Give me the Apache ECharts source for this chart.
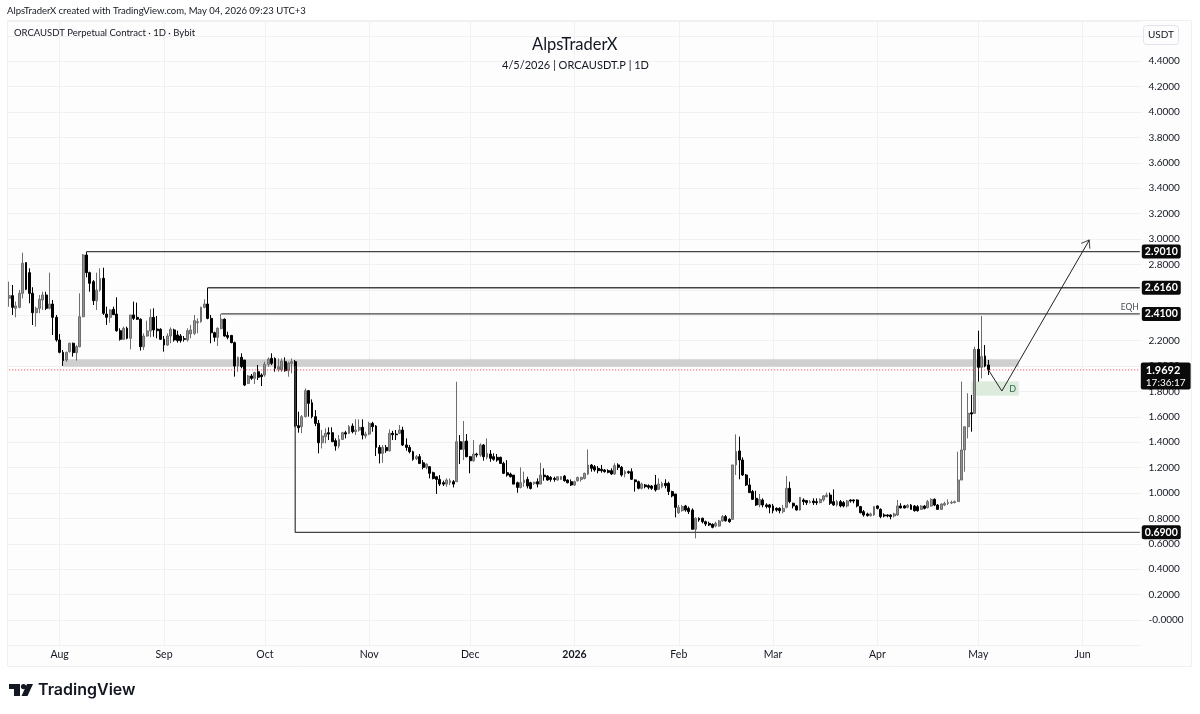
<!DOCTYPE html>
<html lang="en">
<head>
<meta charset="UTF-8">
<title>ORCAUSDT</title>
<script src="https://cdn.jsdelivr.net/npm/echarts@6/dist/echarts.min.js"></script>
<style>html,body{margin:0;height:100%;background:#fff}#container{width:1200px;height:714px}</style>
</head>
<body>
<div id="container"></div>
<script>
// daily candles from 17 Jul 2025, each row: open, close, low, high
const candles = [
[2.533,2.554,2.467,2.664],[2.554,2.462,2.402,2.638],[2.454,2.473,2.383,2.507],[2.462,2.572,2.454,2.598],
[2.572,2.809,2.533,2.892],[2.814,2.604,2.598,2.816],[2.735,2.572,2.494,2.769],[2.572,2.420,2.323,2.620],
[2.420,2.454,2.310,2.467],[2.454,2.525,2.415,2.559],[2.520,2.559,2.441,2.585],[2.559,2.454,2.441,2.585],
[2.454,2.488,2.446,2.735],[2.488,2.383,2.244,2.520],[2.383,2.205,2.192,2.402],[2.205,2.108,2.100,2.252],
[2.108,2.042,2.000,2.126],[2.047,2.108,2.034,2.113],[2.113,2.179,2.105,2.184],[2.179,2.105,2.074,2.184],
[2.105,2.152,2.042,2.165],[2.152,2.388,2.147,2.572],[2.388,2.874,2.383,2.882],[2.874,2.735,2.698,2.901],
[2.735,2.651,2.585,2.743],[2.664,2.514,2.480,2.677],[2.514,2.598,2.441,2.735],[2.598,2.690,2.585,2.769],
[2.690,2.415,2.402,2.774],[2.409,2.383,2.323,2.467],[2.383,2.441,2.341,2.446],[2.446,2.404,2.402,2.467],
[2.409,2.278,2.270,2.541],[2.278,2.210,2.200,2.297],[2.210,2.297,2.205,2.310],[2.297,2.218,2.210,2.310],
[2.218,2.402,2.131,2.402],[2.402,2.375,2.362,2.507],[2.383,2.368,2.362,2.499],[2.368,2.152,2.121,2.375],
[2.152,2.236,2.126,2.257],[2.236,2.276,2.231,2.357],[2.276,2.383,2.226,2.449],[2.383,2.284,2.231,2.454],
[2.291,2.278,2.218,2.394],[2.289,2.210,2.205,2.297],[2.210,2.165,2.113,2.236],[2.165,2.236,2.158,2.257],
[2.236,2.289,2.179,2.304],[2.284,2.205,2.192,2.294],[2.244,2.200,2.184,2.278],[2.236,2.200,2.184,2.252],
[2.215,2.210,2.192,2.236],[2.205,2.278,2.192,2.297],[2.252,2.284,2.218,2.323],[2.257,2.357,2.244,2.402],
[2.341,2.349,2.257,2.375],[2.349,2.462,2.341,2.467],[2.462,2.488,2.454,2.525],[2.488,2.375,2.368,2.616],
[2.375,2.262,2.179,2.402],[2.262,2.226,2.192,2.270],[2.226,2.297,2.158,2.304],[2.294,2.368,2.289,2.410],
[2.368,2.236,2.231,2.375],[2.241,2.226,2.210,2.270],[2.241,2.184,2.179,2.244],[2.184,2.000,1.916,2.192],
[2.000,2.068,1.955,2.074],[2.068,1.995,1.982,2.100],[2.047,1.850,1.842,2.047],[1.863,1.921,1.858,1.929],
[1.921,1.903,1.890,1.937],[1.903,1.947,1.858,1.955],[1.955,1.911,1.890,2.008],[1.929,1.916,1.842,1.942],
[1.929,2.013,1.916,2.034],[2.013,2.055,1.995,2.068],[2.060,2.021,2.008,2.100],[2.060,1.982,1.955,2.068],
[1.974,1.995,1.955,2.060],[1.969,2.039,1.955,2.060],[2.034,1.963,1.955,2.068],[1.963,2.021,1.916,2.034],
[2.021,2.034,1.942,2.060],[2.034,1.530,1.520,2.047],[1.530,1.514,1.475,1.640],[1.522,1.601,1.470,1.614],
[1.601,1.806,1.595,1.824],[1.806,1.706,1.601,1.811],[1.711,1.601,1.588,1.737],[1.601,1.548,1.527,1.653],
[1.548,1.396,1.312,1.575],[1.396,1.449,1.351,1.496],[1.443,1.470,1.391,1.509],[1.475,1.464,1.417,1.517],
[1.475,1.404,1.404,1.517],[1.412,1.370,1.333,1.430],[1.370,1.422,1.351,1.456],[1.422,1.475,1.417,1.483],
[1.475,1.464,1.430,1.490],[1.470,1.522,1.464,1.535],[1.527,1.483,1.470,1.548],[1.483,1.496,1.456,1.580],
[1.496,1.517,1.483,1.580],[1.517,1.456,1.422,1.580],[1.449,1.464,1.430,1.483],[1.464,1.548,1.456,1.561],
[1.548,1.522,1.483,1.561],[1.527,1.359,1.291,1.535],[1.359,1.312,1.233,1.378],[1.312,1.359,1.238,1.378],
[1.359,1.333,1.317,1.378],[1.333,1.470,1.325,1.501],[1.470,1.459,1.417,1.490],[1.464,1.459,1.417,1.496],
[1.470,1.496,1.464,1.535],[1.496,1.378,1.370,1.522],[1.378,1.359,1.333,1.430],[1.359,1.325,1.312,1.378],
[1.325,1.265,1.254,1.333],[1.270,1.286,1.259,1.299],[1.286,1.233,1.228,1.307],[1.238,1.202,1.186,1.259],
[1.202,1.228,1.186,1.233],[1.207,1.155,1.115,1.212],[1.160,1.115,1.107,1.168],[1.128,1.107,0.992,1.133],
[1.107,1.070,1.055,1.141],[1.081,1.070,1.055,1.097],[1.070,1.102,1.049,1.115],[1.081,1.097,1.063,1.115],
[1.089,1.070,1.044,1.102],[1.089,1.404,1.089,1.876],[1.404,1.344,1.228,1.456],[1.344,1.404,1.260,1.567],
[1.409,1.286,1.281,1.464],[1.286,1.254,1.155,1.291],[1.254,1.307,1.246,1.417],[1.307,1.299,1.281,1.317],
[1.299,1.378,1.286,1.391],[1.378,1.286,1.254,1.385],[1.281,1.312,1.265,1.430],[1.307,1.273,1.246,1.338],
[1.286,1.265,1.254,1.312],[1.281,1.259,1.246,1.307],[1.281,1.233,1.228,1.286],[1.233,1.155,1.149,1.246],
[1.160,1.141,1.128,1.259],[1.149,1.128,1.123,1.160],[1.141,1.070,1.070,1.141],[1.081,1.044,1.002,1.089],
[1.044,1.081,1.036,1.202],[1.081,1.102,1.049,1.168],[1.107,1.055,1.036,1.128],[1.081,1.036,1.028,1.089],
[1.076,1.084,1.063,1.089],[1.089,1.070,1.044,1.115],[1.070,1.141,1.070,1.238],[1.141,1.128,1.097,1.194],
[1.133,1.102,1.097,1.141],[1.123,1.107,1.089,1.133],[1.115,1.107,1.089,1.128],[1.102,1.128,1.097,1.133],
[1.107,1.128,1.102,1.133],[1.133,1.097,1.089,1.141],[1.102,1.081,1.076,1.107],[1.089,1.063,1.055,1.107],
[1.063,1.089,1.055,1.097],[1.097,1.123,1.089,1.128],[1.107,1.123,1.089,1.128],[1.115,1.155,1.107,1.160],
[1.149,1.220,1.141,1.343],[1.220,1.194,1.168,1.228],[1.207,1.181,1.168,1.220],[1.194,1.176,1.155,1.212],
[1.187,1.176,1.160,1.221],[1.181,1.168,1.160,1.189],[1.176,1.163,1.155,1.187],[1.176,1.150,1.142,1.194],
[1.150,1.215,1.142,1.234],[1.221,1.202,1.181,1.234],[1.202,1.142,1.129,1.213],[1.150,1.168,1.124,1.181],
[1.168,1.160,1.150,1.176],[1.168,1.108,1.103,1.194],[1.103,1.089,1.011,1.108],[1.089,1.037,1.029,1.097],
[1.037,1.071,1.029,1.082],[1.063,1.050,1.037,1.071],[1.058,1.045,1.029,1.068],[1.055,1.037,1.024,1.063],
[1.063,1.024,1.011,1.142],[1.029,1.071,1.024,1.116],[1.050,1.076,1.037,1.089],[1.076,1.058,1.037,1.108],
[1.076,1.011,0.984,1.089],[1.011,0.977,0.966,1.018],[0.992,0.887,0.808,0.992],[0.845,0.887,0.835,0.906],
[0.861,0.893,0.853,0.906],[0.898,0.866,0.853,0.906],[0.879,0.853,0.835,0.893],[0.866,0.714,0.714,0.879],
[0.714,0.801,0.643,0.808],[0.801,0.788,0.774,0.808],[0.801,0.774,0.761,0.806],[0.774,0.756,0.740,0.782],
[0.761,0.748,0.740,0.774],[0.753,0.730,0.722,0.761],[0.740,0.761,0.730,0.774],[0.740,0.780,0.735,0.788],
[0.780,0.814,0.774,0.827],[0.814,0.782,0.774,0.827],[0.793,0.774,0.766,0.801],[0.793,1.221,0.788,1.221],
[1.221,1.326,1.142,1.462],[1.331,1.260,1.108,1.444],[1.260,1.142,1.134,1.281],[1.142,1.063,1.055,1.150],
[1.063,1.003,1.003,1.116],[1.011,0.950,0.945,1.024],[0.958,0.906,0.898,1.018],[0.906,0.950,0.887,0.992],
[0.945,0.906,0.887,0.958],[0.906,0.893,0.879,0.919],[0.906,0.887,0.840,0.914],[0.898,0.861,0.840,0.914],
[0.879,0.866,0.853,0.887],[0.879,0.861,0.840,0.887],[0.853,0.879,0.840,0.906],[0.887,1.037,0.879,1.134],
[1.037,0.932,0.919,1.089],[0.919,0.898,0.879,0.924],[0.898,0.866,0.861,0.906],[0.866,0.966,0.861,0.966],
[0.945,0.932,0.906,0.958],[0.940,0.924,0.906,0.945],[0.924,0.932,0.919,0.945],[0.937,0.924,0.906,0.958],
[0.932,0.924,0.906,0.958],[0.924,0.950,0.919,0.958],[0.945,0.977,0.932,0.984],[0.971,0.984,0.966,1.003],
[0.984,0.919,0.906,1.003],[0.932,0.906,0.898,1.029],[0.906,0.932,0.893,0.945],[0.932,0.898,0.887,0.945],
[0.924,0.898,0.887,0.937],[0.898,0.937,0.887,0.945],[0.945,0.937,0.924,0.950],[0.945,0.937,0.919,0.950],
[0.945,0.898,0.887,0.950],[0.893,0.845,0.840,0.898],[0.853,0.827,0.814,0.866],[0.835,0.822,0.814,0.845],
[0.822,0.835,0.814,0.845],[0.827,0.893,0.819,0.898],[0.898,0.879,0.871,0.903],[0.871,0.814,0.801,0.879],
[0.827,0.819,0.808,0.840],[0.827,0.819,0.808,0.832],[0.827,0.814,0.793,0.832],[0.819,0.835,0.808,0.845],
[0.827,0.898,0.819,0.945],[0.898,0.882,0.879,0.919],[0.898,0.882,0.879,0.906],[0.887,0.903,0.879,0.914],
[0.905,0.871,0.871,0.913],[0.897,0.861,0.853,0.905],[0.892,0.861,0.853,0.905],[0.871,0.897,0.866,0.905],
[0.897,0.879,0.871,0.905],[0.884,0.932,0.879,0.945],[0.897,0.950,0.892,0.958],[0.950,0.905,0.897,0.958],
[0.905,0.871,0.871,0.913],[0.871,0.913,0.871,0.918],[0.905,0.918,0.897,0.932],[0.918,0.926,0.905,0.950],
[0.921,0.926,0.913,0.940],[0.924,0.932,0.918,0.940],[0.932,1.102,0.932,1.325],[1.102,1.339,1.102,1.877],
[1.339,1.522,1.168,1.522],[1.522,1.627,1.430,1.785],[1.632,1.622,1.483,1.772],[1.627,2.131,1.627,2.152],
[2.131,1.990,1.877,2.278],[1.990,2.074,1.903,2.394],[2.079,2.000,1.990,2.165],[2.008,1.9692,1.929,2.047]
];
const lastPrice = 1.9692;
const countdown = '17:36:17';
const levelPrices = [2.901, 2.616, 2.41, 0.69];
const levelStarts = [23, 59, 63, 85];
const crashTop = 2.0;
const zoneLow = [1.995, 2.053];
const zoneDays = [16, 300];
const demandLow = [1.767, 1.877];
const demandDays = [286, 300];
const pathDays = [291, 295, 321];
const pathPrices = [1.9692, 1.803, 2.992];
const eqhPoint = [333, 2.46];

const font = 'Lato';
const dayCount = 337;
const monthNames = ['Jan', 'Feb', 'Mar', 'Apr', 'May', 'Jun', 'Jul', 'Aug', 'Sep', 'Oct', 'Nov', 'Dec'];

let categories = [];
for (let i = 0; i < dayCount; i++) {
    categories.push(new Date(Date.UTC(2025, 6, 17 + i)));
}

function isMonthStart(index) {
    return categories[index].getUTCDate() === 1;
}

function monthLabel(value, index) {
    if (!isMonthStart(index)) return '';
    let m = categories[index].getUTCMonth();
    return m === 0 ? '{y|2026}' : monthNames[m];
}

function priceLabel(v) {
    if (v > 4.5 || v < -0.1) return '';
    if (Math.abs(v) < 1e-6) return '-0.0000';
    return v.toFixed(4);
}

// horizontal levels, the last one drops from the crash candle first
let levelSeries = levelPrices.map(function (price, i) {
    let points = [[levelStarts[i], price], [dayCount - 1, price]];
    if (price < 1) points.unshift([levelStarts[i], crashTop]);
    return {
        type: 'line',
        data: points,
        symbol: 'none',
        silent: true,
        z: 4,
        lineStyle: {color: '#444', width: 1.3},
        endLabel: {
            show: true,
            formatter: price.toFixed(4),
            color: '#fff',
            backgroundColor: '#0a0a0a',
            borderRadius: 2,
            padding: [2, 3, 1, 3],
            fontFamily: font,
            fontSize: 10.5,
            fontWeight: 'bold',
            distance: 2
        }
    };
});

let option = {
    animation: false,
    backgroundColor: '#fff',
    textStyle: {fontFamily: font},
    title: [
        {text: 'AlpsTraderX created with TradingView.com, May 04, 2026 09:23 UTC+3', left: 7, top: 6, padding: 0,
            textStyle: {fontFamily: font, fontSize: 9.5, fontWeight: 'normal', color: '#131722'}},
        {text: 'ORCAUSDT Perpetual Contract · 1D · Bybit', left: 14, top: 28, padding: 0,
            textStyle: {fontFamily: font, fontSize: 9.5, fontWeight: 'normal', color: '#131722'}},
        {text: 'AlpsTraderX', left: 532, top: 36, padding: 0,
            textStyle: {fontFamily: font, fontSize: 16.5, fontWeight: 'normal', color: '#131722'}},
        {text: '4/5/2026 | ORCAUSDT.P | 1D', left: 502, top: 60, padding: 0,
            textStyle: {fontFamily: font, fontSize: 11, fontWeight: 'normal', color: '#131722'}},
        {text: 'USDT', left: 1143, top: 25, padding: [5, 5, 5, 5], borderWidth: 1, borderColor: '#e0e3eb', borderRadius: 3,
            textStyle: {fontFamily: font, fontSize: 10, fontWeight: 'normal', color: '#131722'}},
        {text: 'TradingView', left: 38, top: 682, padding: 0,
            textStyle: {fontFamily: 'Inter', fontSize: 16, fontWeight: 600, color: '#131722'}}
    ],
    graphic: [
        {type: 'rect', silent: true, z: -10, shape: {x: 7.5, y: 20.5, width: 1184, height: 646},
            style: {fill: '#fdfdfd', stroke: '#f0f0f0', lineWidth: 1}},
        {type: 'polygon', silent: true, shape: {points: [[9, 684], [20, 684], [20, 696], [14, 696], [14, 689], [9, 689]]},
            style: {fill: '#131722'}},
        {type: 'circle', silent: true, shape: {cx: 23.5, cy: 686.6, r: 2.6}, style: {fill: '#131722'}},
        {type: 'polygon', silent: true, shape: {points: [[27, 684], [33, 684], [27.5, 696], [21.5, 696]]},
            style: {fill: '#131722'}}
    ],
    grid: {left: 7.5, width: 1134, top: 21, height: 624.4, containLabel: false},
    xAxis: {
        type: 'category',
        data: categories.map(function (d) { return d.toISOString().slice(0, 10); }),
        axisLine: {show: false},
        axisTick: {show: false},
        splitLine: {
            show: true,
            alignWithLabel: true,
            interval: function (index) { return isMonthStart(index); },
            lineStyle: {color: '#f1f1f1', width: 1}
        },
        axisLabel: {
            interval: function (index) { return isMonthStart(index); },
            formatter: monthLabel,
            margin: 4,
            color: '#131722',
            fontFamily: font,
            fontSize: 10.5,
            rich: {y: {fontWeight: 'bold', fontSize: 10.5, color: '#131722', fontFamily: font}}
        }
    },
    yAxis: {
        type: 'value',
        position: 'right',
        min: -0.2,
        max: 4.7165,
        interval: 0.2,
        axisLine: {show: false},
        axisTick: {show: false},
        splitLine: {show: true, lineStyle: {color: '#f1f1f1', width: 1}},
        axisLabel: {
            formatter: priceLabel,
            margin: 7,
            padding: [2, 0, 0, 0],
            color: '#131722',
            fontFamily: font,
            fontSize: 10,
            showMaxLabel: false
        }
    },
    series: [
        {
            type: 'line',
            data: [],
            silent: true,
            z: 1,
            markArea: {
                silent: true,
                data: [
                    [{coord: [zoneDays[0], zoneLow[1]], itemStyle: {color: '#cfcfcf'}}, {coord: [zoneDays[1], zoneLow[0]]}],
                    [{coord: [demandDays[0], demandLow[1]], itemStyle: {color: '#dcebdc', borderColor: '#e8f1e8', borderWidth: 1},
                        label: {show: true, formatter: 'D', position: 'insideRight', distance: 3, color: '#2e6b4a', fontSize: 9, fontFamily: font}},
                        {coord: [demandDays[1], demandLow[0]]}]
                ]
            }
        },
        {
            type: 'candlestick',
            data: candles,
            barWidth: 2.4,
            silent: true,
            z: 2,
            itemStyle: {color: '#929292', color0: '#000', borderColor: '#6e6e6e', borderColor0: '#000', borderWidth: 1}
        },
        {
            type: 'line',
            data: [[0, lastPrice], [dayCount - 1, lastPrice]],
            symbol: 'none',
            silent: true,
            z: 3,
            lineStyle: {color: '#f23645', width: 1, type: [1, 2]},
            endLabel: {
                show: true,
                formatter: '{p|' + lastPrice.toFixed(4) + '}\n{t|' + countdown + '}',
                backgroundColor: '#0a0a0a',
                borderRadius: 2,
                padding: [2, 5, 1, 5],
                offset: [0, 6],
                distance: 1,
                rich: {
                    p: {color: '#fff', fontSize: 11, fontWeight: 'bold', fontFamily: font, lineHeight: 12},
                    t: {color: '#fff', fontSize: 10, fontFamily: font, lineHeight: 12}
                }
            }
        }
    ].concat(levelSeries, [
        {
            type: 'line',
            data: pathDays.map(function (d, i) { return [d, pathPrices[i]]; }),
            symbol: 'none',
            silent: true,
            z: 5,
            lineStyle: {color: '#222', width: 1}
        },
        {
            // open arrow head at the end of the projected path
            type: 'scatter',
            data: [[pathDays[2], pathPrices[2]]],
            symbol: 'path://M0,10 L6,0 L12,10',
            symbolSize: [10, 7],
            symbolRotate: -31,
            symbolOffset: [-2, 3],
            silent: true,
            z: 5,
            itemStyle: {color: 'rgba(0,0,0,0)', borderColor: '#222', borderWidth: 1}
        },
        {
            type: 'scatter',
            data: [eqhPoint],
            symbolSize: 0,
            silent: true,
            z: 5,
            label: {show: true, formatter: 'EQH', position: 'inside', color: '#131722', fontSize: 8.5, fontFamily: font}
        }
    ])
};

let myChart = echarts.init(document.getElementById('container'), null, {renderer: 'canvas'});
myChart.setOption(option);
</script>
</body>
</html>
